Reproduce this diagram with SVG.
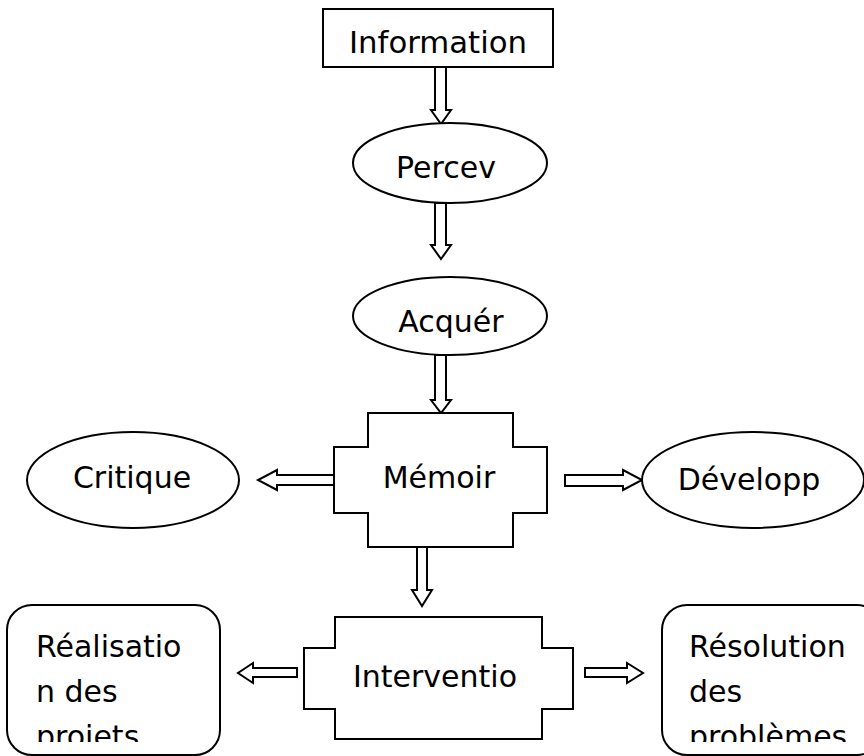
<svg xmlns="http://www.w3.org/2000/svg" width="864" height="756" viewBox="0 0 864 756">
<style>
.s{fill:#fff;stroke:#000;stroke-width:2}
.a{fill:#fff;stroke:#000;stroke-width:2;stroke-linejoin:miter}
text{font-family:"DejaVu Sans","Noto Sans",sans-serif;font-size:30px;fill:#000}
.c{text-anchor:middle}
</style>
<defs>
<clipPath id="clipL"><rect x="0" y="600" width="864" height="142"/></clipPath>
</defs>
<rect width="864" height="756" fill="#fff"/>
<g id="connectors">
<polygon class="a" points="435,67 446,67 446,110 451,110 441,124 431,110 435,110"/>
<polygon class="a" points="435,203 446,203 446,245 451,245 441,259 431,245 435,245"/>
<polygon class="a" points="435,355 446,355 446,400 451,400 441,413 431,400 435,400"/>
<polygon class="a" points="417,547 427,547 427,590 432,590 422,606 412,590 417,590"/>
<polygon class="a" points="334,475 334,485 277,485 277,490 258,480 277,470 277,475"/>
<polygon class="a" points="565,475 565,486 623,486 623,490 642,480 623,470 623,475"/>
<polygon class="a" points="297,668 297,677 253,677 253,683 238,673 253,663 253,668"/>
<polygon class="a" points="585,668 585,677 627,677 627,683 643,673 627,663 627,668"/>
</g>
<g id="information">
<rect class="s" x="323" y="9" width="230" height="58"/>
<text class="c" x="438" y="53" textLength="178" lengthAdjust="spacingAndGlyphs">Information</text>
</g>
<g id="percev">
<ellipse class="s" cx="450" cy="163" rx="97" ry="40"/>
<text class="c" x="446" y="178">Percev</text>
</g>
<g id="acquer">
<ellipse class="s" cx="450" cy="316" rx="97" ry="39"/>
<text class="c" x="451" y="332">Acquér</text>
</g>
<g id="memoir">
<polygon class="s" points="368,413 513,413 513,447 547,447 547,513 513,513 513,547 368,547 368,513 334,513 334,447 368,447"/>
<text class="c" x="439" y="488">Mémoir</text>
</g>
<g id="critique">
<ellipse class="s" cx="133" cy="480" rx="106" ry="48"/>
<text class="c" x="132" y="488">Critique</text>
</g>
<g id="developp">
<ellipse class="s" cx="753" cy="480" rx="111" ry="48"/>
<text class="c" x="749" y="490">Développ</text>
</g>
<g id="intervention">
<polygon class="s" points="335,617 542,617 542,648 573,648 573,709 542,709 542,739 335,739 335,709 304,709 304,648 335,648"/>
<text class="c" x="435" y="687">Interventio</text>
</g>
<g id="realisation">
<rect class="s" x="7" y="605" width="213" height="150" rx="25" ry="25"/>
<g clip-path="url(#clipL)">
<text x="36" y="657">Réalisatio</text>
<text x="36" y="702">n des</text>
<text x="36" y="747">projets</text>
</g>
</g>
<g id="resolution">
<rect class="s" x="662" y="605" width="220" height="150" rx="25" ry="25"/>
<g clip-path="url(#clipL)">
<text x="689" y="657">Résolution</text>
<text x="689" y="702">des</text>
<text x="689" y="747">problèmes</text>
</g>
</g>
</svg>
